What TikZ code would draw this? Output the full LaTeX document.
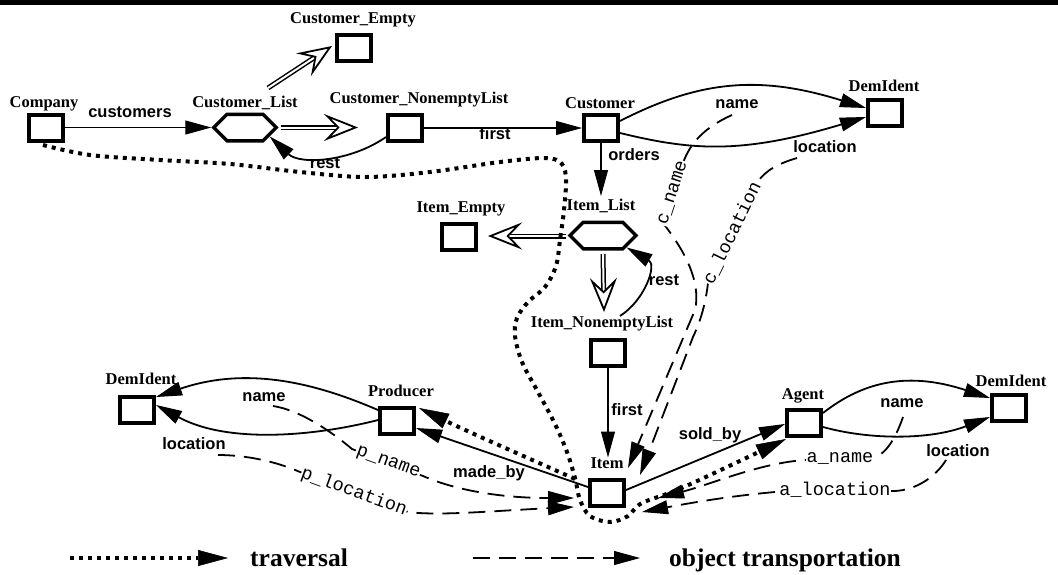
\documentclass[tikz,border=0pt]{standalone}
\usepackage{fontspec}
\setmainfont{Liberation Serif}
\newfontfamily\hvfont{Liberation Sans}
\newfontfamily\crfont{Liberation Mono}
\usetikzlibrary{arrows.meta,shapes.symbols,calc}
\newcommand\mydblarrow[2]{%
  \draw[line width=5pt, shorten >=21pt] (#1) -- (#2);
  \draw[white, line width=2pt, shorten >=20pt] (#1) -- (#2);
  \draw[line width=1.8pt, -{Stealth[open, length=34pt, width=27pt, inset=13pt]}] ($(#2)!21pt!(#1)$) -- (#2);
}
\begin{document}
\begin{tikzpicture}[x=1pt,y=-1pt,
  box/.style={draw, line width=4pt, minimum width=34pt, minimum height=26pt, inner sep=0pt},
  hex/.style={draw, line width=3.5pt, signal, signal to=east and west, signal pointer angle=90, minimum width=62.5pt, minimum height=26.5pt, inner sep=0pt},
  lab/.style={font=\fontsize{16.5}{18}\selectfont\bfseries, anchor=base, inner sep=0pt},
  elab/.style={font=\hvfont\fontsize{16.5}{18}\selectfont\bfseries, anchor=base, inner sep=0pt},
  clab/.style={font=\crfont\fontsize{18.5}{20}\selectfont, fill=white, inner sep=0.5pt},
  leg/.style={font=\fontsize{25.5}{28}\selectfont\bfseries, inner sep=0pt},
  sol/.style={line width=1.8pt, -{Triangle[length=26pt,width=14pt,line width=1pt]}},
  obj/.style={line width=1.8pt, dash pattern=on 17pt off 9pt, -{Triangle[length=26pt,width=14pt,line width=1pt]}},
  trav/.style={line width=4pt, dash pattern=on 4pt off 5pt, -{Triangle[length=30pt,width=16pt,line width=0.5pt]}},
  ]
\useasboundingbox (0,0) rectangle (1058,574);
\fill (0,0) rectangle (1058,4.5);

% boxes
\node[box] (company) at (46,128) {};
\node[box] (cempty) at (354,48) {};
\node[hex] (clist) at (245,127.5) {};
\node[box] (cnon) at (405,128) {};
\node[box] (customer) at (601,128) {};
\node[box] (demtop) at (885,113) {};
\node[hex, minimum width=66pt] (ilist) at (603,235.5) {};
\node[box] (iempty) at (459,237) {};
\node[box] (inon) at (608,353) {};
\node[box] (item) at (607,493) {};
\node[box] (producer) at (397,421) {};
\node[box] (deml) at (137,410) {};
\node[box] (agent) at (804,423) {};
\node[box] (demr) at (1009,408) {};

% node labels
\node[lab] (lcempty) at (353,23.5) {Customer\_Empty};
\node[lab] (lcompany) at (44,107.5) {Company};
\node[lab] (lclist) at (245,107.5) {Customer\_List};
\node[lab] (lcnon) at (419,103.5) {Customer\_NonemptyList};
\node[lab] (lcustomer) at (600,108.5) {Customer};
\node[lab] (ldemtop) at (884,91.5) {DemIdent};
\node[lab] (liempty) at (461,212.5) {Item\_Empty};
\node[lab] (lilist) at (601,210.5) {Item\_List};
\node[lab] (linon) at (602,327.5) {Item\_NonemptyList};
\node[lab] (litem) at (607,468.5) {Item};
\node[lab] (lproducer) at (401,396.5) {Producer};
\node[lab] (ldeml) at (141,384.5) {DemIdent};
\node[lab] (lagent) at (803,399.5) {Agent};
\node[lab] (ldemr) at (1011,386.5) {DemIdent};

% solid edges
\draw[sol] (company.east |- clist.west) -- (clist.west);
\draw[sol] ($(cnon.west)+(0,9)$) .. controls (350,162) and (300,165) .. (clist.-20);
\draw[sol] (cnon.east) -- (customer.west);
\draw[sol] ($(customer.east)+(0,-7)$) .. controls (700,80) and (760,75) .. ($(demtop.west)+(0,-5)$);
\draw[sol] ($(customer.east)+(0,5)$) .. controls (690,150) and (740,155) .. ($(demtop.west)+(0,4)$);
\coordinate (ordE) at (601,196);
\draw[sol] (customer.south) -- (ordE);
\coordinate (irestS) at (620,316);
\draw[sol] (irestS) .. controls (645,300) and (657,265) .. (ilist.-27);
\draw[sol] (inon.south) -- (inon.south |- litem.north);
\draw[sol] ($(item.west)+(0,-6)$) -- ($(producer.east)+(0,7)$);
\draw[sol] ($(item.east)+(0,-3)$) -- ($(agent.west)+(0,1)$);
\draw[sol] ($(producer.west)+(0,-11)$) .. controls (320,385) and (250,365) .. ($(deml.east)+(0,-13)$);
\draw[sol] ($(producer.west)+(0,-1)$) .. controls (320,435) and (230,445) .. ($(deml.east)+(0,-5)$);
\draw[sol] ($(agent.east)+(0,-10)$) .. controls (865,380) and (910,372) .. ($(demr.west)+(0,-10)$);
\draw[sol] ($(agent.east)+(0,4)$) .. controls (870,440) and (930,440) .. ($(demr.west)+(0,9)$);

% edge labels
\node[elab] (ecust) at (130,117) {customers};
\node[elab] (erest1) at (325,168) {rest};
\node[elab] (efirst1) at (495,139) {first};
\node[elab] (ename1) at (737,108) {name};
\node[elab] (eloc1) at (825,152) {location};
\node[elab] (eorders) at (634,160) {orders};
\node[elab] (erest2) at (664,285) {rest};
\node[elab] (efirst2) at (627,415) {first};
\node[elab] (emade) at (489,477) {made\_by};
\node[elab] (esold) at (710,439) {sold\_by};
\node[elab] (ename2) at (264,401) {name};
\node[elab] (eloc2) at (194,449) {location};
\node[elab] (ename3) at (902,407) {name};
\node[elab] (eloc3) at (958,456) {location};

% double (inheritance) arrows
\coordinate (d1s) at (268,88);  \coordinate (d1e) at (332,46);
\coordinate (d2s) at (281,127.5); \coordinate (d2e) at (358,127.5);
\coordinate (d3s) at (566,236); \coordinate (d3e) at (488,236);
\coordinate (d4s) at (603,254); \coordinate (d4e) at (604,312);
\mydblarrow{d1s}{d1e}
\mydblarrow{d2s}{d2e}
\mydblarrow{d3s}{d3e}
\mydblarrow{d4s}{d4e}

% object transportation (dashed)
\coordinate (cns) at (732,115);
\coordinate (cne) at ($(item.north east)+(2,-10)$);
\coordinate (cls) at (797,158);
\coordinate (cle) at ($(item.north east)+(14,-3)$);
\coordinate (pns) at (273,406);
\coordinate (pne) at ($(item.west)+(-14,5)$);
\coordinate (pls) at (218,455);
\coordinate (ple) at ($(item.west)+(-14,14)$);
\coordinate (ans) at (903,417);
\coordinate (ane) at ($(item.east)+(32,5)$);
\coordinate (als) at (946,460);
\coordinate (ale) at ($(item.east)+(16,19)$);
\draw[obj] (cns) .. controls (705,127) and (690,143) .. (683,163) -- (663,223) .. controls (680,245) and (702,278) .. (695,310) -- (cne);
\draw[obj] (cls) .. controls (780,163) and (765,170) .. (757,183) -- (708,283) .. controls (706,300) and (702,318) .. (693,337) -- (cle);
\draw[obj] (pns) .. controls (300,410) and (332,432) .. (352,449) -- (423,476) .. controls (455,490) and (500,498) .. (pne);
\draw[obj] (pls) .. controls (245,455) and (275,461) .. (300,472) -- (408,512) .. controls (440,516) and (490,511) .. (ple);
\draw[obj] (ans) .. controls (895,440) and (885,456) .. (870,459) -- (805,460) .. controls (760,463) and (712,484) .. (ane);
\draw[obj] (als) .. controls (935,478) and (915,490) .. (895,491) -- (775,492) .. controls (730,496) and (690,503) .. (ale);

\node[clab, rotate=72] (tcname) at (673,193) {c\_name};
\node[clab, rotate=64] (tcloc) at (732,233) {c\_location};
\node[clab, rotate=-20] (tpname) at (388,463) {p\_name};
\node[clab, rotate=-20] (tploc) at (354,492) {p\_location};
\node[clab] (taname) at (840,459) {a\_name};
\node[clab] (taloc) at (835,490) {a\_location};

% traversal (dotted)
\coordinate (ts) at ($(company.south)+(-3,2)$);
\coordinate (te) at ($(agent.south west)+(1,1)$);
\coordinate (tb) at (575,479);
\coordinate (pte) at ($(producer.north east)+(3,2)$);
\draw[trav] plot[smooth, tension=0.55] coordinates {(ts) (90,155) (160,160) (230,164) (300,172) (365,177) (430,172) (500,162) (546,158) (562,164) (566,180) (564,210) (560,240) (556,266) (545,287) (528,302) (517,318) (515,336) (522,362) (538,392) (555,424) (567,452) (575,478) (580,500) (590,516) (610,522) (628,516) (642,503) (684,487) (te)};
\draw[trav] (tb) .. controls (535,461) and (475,435) .. (pte);

% legend
\coordinate (lt1) at (70,558); \coordinate (lt2) at (228,558);
\coordinate (lo1) at (473,558); \coordinate (lo2) at (640,558);
\draw[trav] (lt1) -- (lt2);
\draw[obj] (lo1) -- (lo2);
\node[leg, anchor=base west] (lgt) at (250,566) {traversal};
\node[leg, anchor=base west] (lgo) at (669,566) {object transportation};
\end{tikzpicture}
\end{document}
